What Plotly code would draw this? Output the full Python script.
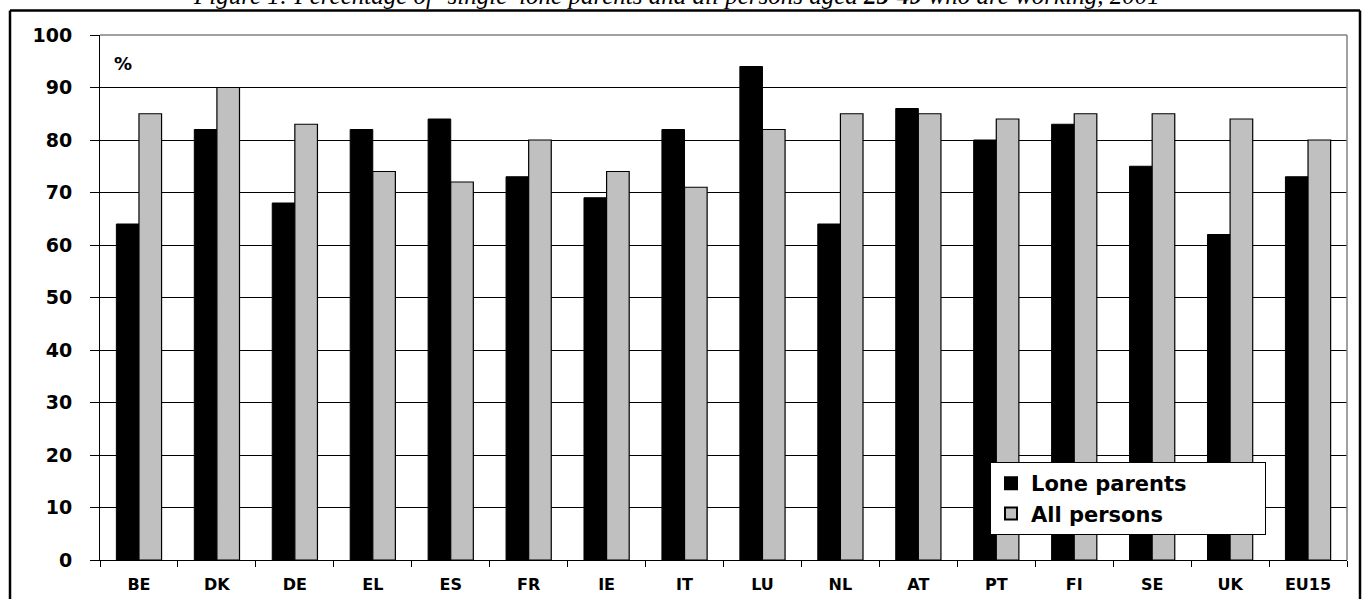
import plotly.graph_objects as go

countries = ["BE", "DK", "DE", "EL", "ES", "FR", "IE", "IT", "LU", "NL",
             "AT", "PT", "FI", "SE", "UK", "EU15"]
lone_parents = [64, 82, 68, 82, 84, 73, 69, 82, 94, 64, 86, 80, 83, 75, 62, 73]
all_persons = [85, 90, 83, 74, 72, 80, 74, 71, 82, 85, 85, 84, 85, 85, 84, 80]
y_ticks = list(range(0, 101, 10))

W, H = 1363, 599
L, R, T, B = 100, 16, 35, 39
pw, ph = W - L - R, H - T - B


def px_x(px):
    return (px - L) / pw


def px_y(py):
    return (H - B - py) / ph


def bold_font(size):
    return dict(family="DejaVu Sans", size=size, color="#000000", weight="bold")


pad = "\u00a0" * 10

fig = go.Figure()
fig.add_trace(go.Bar(
    x=countries, y=lone_parents, name="Lone parents" + pad, legendgroup="lp",
    marker=dict(color="#000000", line=dict(color="#000000", width=1)),
))
fig.add_trace(go.Bar(
    x=countries, y=all_persons, name="All persons", legendgroup="ap",
    marker=dict(color="#C0C0C0", line=dict(color="#000000", width=1.2)),
))

frame = dict(color="#000000", width=2.5)

fig.update_layout(
    width=W, height=H,
    margin=dict(l=L, r=R, t=T, b=B, autoexpand=False),
    paper_bgcolor="white", plot_bgcolor="white",
    barmode="group", bargap=0.42, bargroupgap=0,
    font=bold_font(15),
    showlegend=True,
    legend=dict(
        x=px_x(990), y=px_y(462), xanchor="left", yanchor="top",
        bgcolor="white", bordercolor="#000000", borderwidth=1,
        font=bold_font(21),
        itemsizing="constant", tracegroupgap=0,
        traceorder="grouped",
    ),
    xaxis=dict(
        showline=True, linecolor="#000000", linewidth=1,
        ticks="outside", ticklen=6, tickcolor="#000000",
        tickson="boundaries", showgrid=False,
        tickfont=bold_font(16),
        ticklabelstandoff=10, automargin=False,
    ),
    yaxis=dict(
        range=[0, 100], tickvals=y_ticks,
        showline=True, linecolor="#000000", linewidth=1,
        ticks="outside", ticklen=9, tickcolor="#000000",
        showgrid=True, gridcolor="#000000", gridwidth=1,
        zeroline=False,
        tickfont=bold_font(19),
        ticklabelstandoff=14, automargin=False,
    ),
    shapes=[
        # grey top/right plot border
        dict(type="line", xref="paper", yref="paper", x0=0, x1=1, y0=1, y1=1,
             line=dict(color="#808080", width=1.5)),
        dict(type="line", xref="paper", yref="paper", x0=1, x1=1, y0=0, y1=1,
             line=dict(color="#808080", width=1.5)),
        # outer frame around the figure
        dict(type="line", xref="paper", yref="paper",
             x0=px_x(10), x1=px_x(1360), y0=px_y(10.5), y1=px_y(10.5), line=frame),
        dict(type="line", xref="paper", yref="paper",
             x0=px_x(10), x1=px_x(10), y0=px_y(10.5), y1=px_y(620), line=frame),
        dict(type="line", xref="paper", yref="paper",
             x0=px_x(1360), x1=px_x(1360), y0=px_y(10.5), y1=px_y(620), line=frame),
    ],
    annotations=[
        dict(text="%", xref="paper", yref="paper", x=px_x(112), y=px_y(63),
             xanchor="left", yanchor="middle", showarrow=False,
             font=bold_font(18)),
        dict(text="<i>Figure 1: Percentage of ‘single’ lone parents and all persons aged <b>25-49</b> who are working, 2001</i>",
             xref="paper", yref="paper", x=px_x(676), y=px_y(-5),
             xanchor="center", yanchor="middle", showarrow=False,
             font=dict(family="Liberation Serif", size=25, color="#000000",
                       weight="normal")),
    ],
)

fig.write_html("out.html")
